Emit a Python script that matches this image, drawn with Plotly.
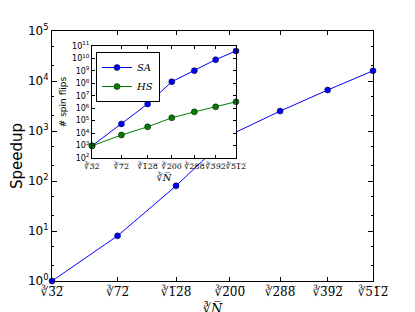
import numpy as np
import plotly.graph_objects as go

# Data
N_values = [32, 72, 128, 200, 288, 392, 512]
speedup = [1.0, 8.0, 80.0, 830.0, 2500.0, 6600.0, 16000.0]
sa_flips = [9.5e2, 5.5e4, 2.2e6, 1.35e8, 1.05e9, 8.0e9, 4.0e10]
hs_flips = [9.5e2, 7.0e3, 3.2e4, 1.7e5, 5.1e5, 1.3e6, 3.3e6]
main_ytick_exp = [0, 1, 2, 3, 4, 5]
inset_ytick_exp = [2, 3, 4, 5, 6, 7, 8, 9, 10, 11]

xs = np.cbrt(np.array(N_values, dtype=float))
OV = "\u0305"
def cube_root_label(n):
    return "\u221b" + "".join(ch + OV for ch in str(n))
xtick_text = [cube_root_label(n) for n in N_values]

BLUE = "#0000ff"
GREEN = "#007f00"
SERIF = "DejaVu Serif"
SANS = "DejaVu Sans"

fig = go.Figure()
fig.add_trace(go.Scatter(
    x=xs, y=speedup, mode="lines+markers", showlegend=False,
    line=dict(color=BLUE, width=1),
    marker=dict(size=6, color=BLUE, line=dict(color="black", width=0.5)),
    cliponaxis=False, xaxis="x", yaxis="y"))
fig.add_trace(go.Scatter(
    x=xs, y=sa_flips, mode="lines+markers", name="<i>SA</i>",
    line=dict(color=BLUE, width=1),
    marker=dict(size=6, color=BLUE, line=dict(color="black", width=0.5)),
    cliponaxis=False, xaxis="x2", yaxis="y2"))
fig.add_trace(go.Scatter(
    x=xs, y=hs_flips, mode="lines+markers", name="<i>HS</i>",
    line=dict(color=GREEN, width=1),
    marker=dict(size=6, color=GREEN, line=dict(color="black", width=0.5)),
    cliponaxis=False, xaxis="x2", yaxis="y2"))

# page body adds an 8px offset; compensate so the plot lands where intended
OFF = 8
W, H = 415, 312
PL, PR, PT, PB = 52, 373, 31, 281   # plot area in screen pixels
L, R, T, B = PL - OFF, W - (PR - OFF), PT - OFF, H - (PB - OFF)
pw, ph = PR - PL, PB - PT

def px_to_dx(px):
    return (px - PL) / pw
def px_to_dy(py):
    return (PB - py) / ph

axis_common = dict(showline=True, linecolor="black", linewidth=1, mirror="ticks",
                   ticks="inside", tickcolor="black", showgrid=False, zeroline=False,
                   automargin=False, tickangle=0)

fig.update_layout(
    width=W, height=H,
    margin=dict(l=L, r=R, t=T, b=B, pad=0),
    paper_bgcolor="white", plot_bgcolor="white",
    xaxis=dict(**axis_common, range=[xs[0], xs[-1]], tickvals=list(xs), ticktext=xtick_text,
               ticklen=4, tickfont=dict(family=SERIF, size=12, color="black"),
               title=dict(text="\u221b<i>N\u0305</i>", font=dict(family=SERIF, size=13, color="black"), standoff=5)),
    yaxis=dict(**axis_common, type="log", range=[0, 5],
               tickvals=[10 ** e for e in main_ytick_exp],
               ticktext=["10<sup>%d</sup>" % e for e in main_ytick_exp],
               ticklen=5, tickfont=dict(family=SANS, size=12, color="black"),
               minor=dict(ticks="inside", ticklen=2, tickcolor="black", showgrid=False),
               title=dict(text="Speedup", font=dict(family=SANS, size=15, color="black"), standoff=4)),
    xaxis2=dict(**axis_common, anchor="y2", domain=[px_to_dx(92), px_to_dx(236)],
                range=[xs[0], xs[-1]], tickvals=list(xs), ticktext=xtick_text,
                ticklen=3, tickfont=dict(family=SERIF, size=8, color="black"),
                title=dict(text="\u221b<i>N\u0305</i>", font=dict(family=SERIF, size=10, color="black"), standoff=2)),
    yaxis2=dict(**axis_common, anchor="x2", type="log", domain=[px_to_dy(158), px_to_dy(46)],
                range=[2, 11], tickvals=[10 ** e for e in inset_ytick_exp],
                ticktext=["10<sup>%d</sup>" % e for e in inset_ytick_exp],
                ticklen=3, tickfont=dict(family=SANS, size=8, color="black"),
                title=dict(text="# spin flips", font=dict(family=SANS, size=9, color="black"), standoff=3)),
    legend=dict(x=px_to_dx(96), y=px_to_dy(52), xanchor="left", yanchor="top",
                bgcolor="white", bordercolor="black", borderwidth=1,
                font=dict(family=SERIF, size=10, color="black"),
                tracegroupgap=0, itemwidth=30),
)

fig.write_html("out.html")
